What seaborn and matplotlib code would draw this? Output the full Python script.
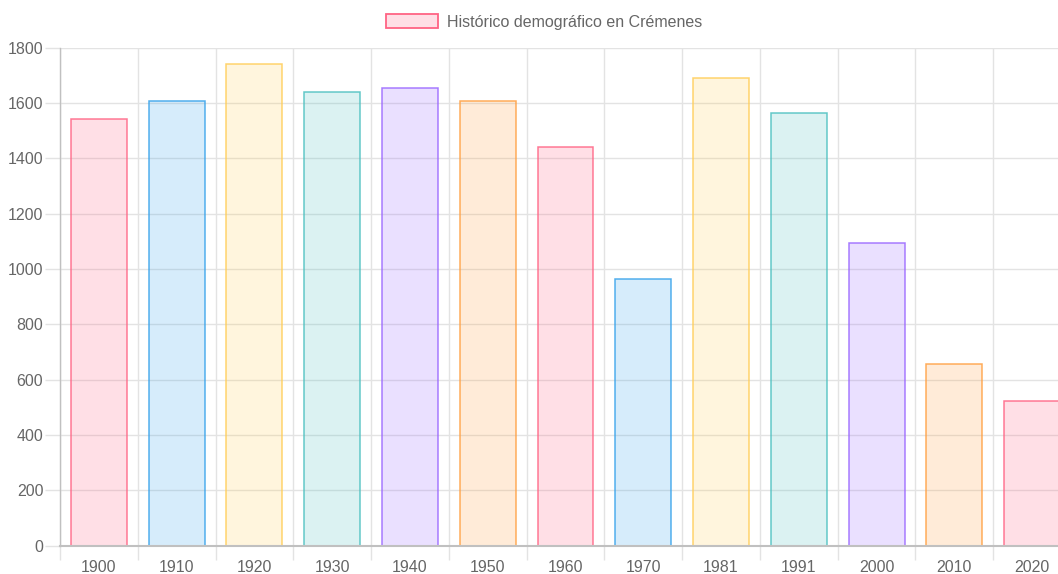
import matplotlib
matplotlib.use("Agg")
import matplotlib.pyplot as plt
from matplotlib.patches import Patch
import seaborn as sns
import pandas as pd

# --- Data ---
years = ["1900", "1910", "1920", "1930", "1940", "1950", "1960",
         "1970", "1981", "1991", "2000", "2010", "2020"]
population = [1542, 1606, 1742, 1641, 1652, 1606, 1440,
              964, 1688, 1562, 1095, 655, 523]
legend_label = "Histórico demográfico en Crémenes"

# Chart.js default palette (border colours), fill = same at 20% alpha
base_colors = ["#ff6384", "#36a2eb", "#ffcd56", "#4bc0c0", "#9966ff", "#ff9f40"]
edge_colors = [base_colors[i % len(base_colors)] for i in range(len(years))]

TEXT = "#666666"
GRID = "#e3e3e3"
AXIS = "#c0c0c0"

sns.set_theme(style="white")
plt.rcParams["font.family"] = ["Liberation Sans", "DejaVu Sans"]

df = pd.DataFrame({"year": years, "pop": population})

fig = plt.figure(figsize=(10.58, 5.74), dpi=100)
ax = fig.add_axes([60 / 1058, 28.3 / 574, 1011 / 1058, 498.2 / 574])

fill_palette = {y: matplotlib.colors.to_rgba(c, 0.2) for y, c in zip(years, edge_colors)}
sns.barplot(data=df, x="year", y="pop", hue="year", palette=fill_palette,
            order=years, hue_order=years, width=0.72, legend=False,
            saturation=1, ax=ax)

for patch, ec in zip(ax.patches, edge_colors):
    patch.set_edgecolor(matplotlib.colors.to_rgba(ec, 0.85))
    patch.set_linewidth(1.1)

ax.set_xlim(-0.5, len(years) - 0.5)
ax.set_ylim(0, 1800)
ax.set_yticks(range(0, 1801, 200))
ax.set_xlabel("")
ax.set_ylabel("")

# grid lines between categories (Chart.js offset grid)
ax.set_xticks([i - 0.5 for i in range(len(years) + 1)], minor=True)
ax.grid(True, which="minor", axis="x", color=GRID, linewidth=1.0)
ax.grid(True, which="major", axis="y", color=GRID, linewidth=1.0)
ax.set_axisbelow(True)

ax.tick_params(axis="x", which="major", length=0, labelsize=11.5,
               labelcolor=TEXT, pad=10)
ax.tick_params(axis="x", which="minor", length=10, width=1.0, color=GRID,
               direction="out", bottom=True)
ax.tick_params(axis="y", which="major", length=11, width=1.0, color=GRID,
               labelsize=11.5, labelcolor=TEXT, pad=1, left=True)

for side in ["top", "right"]:
    ax.spines[side].set_visible(False)
ax.spines["left"].set_color(AXIS)
ax.spines["left"].set_linewidth(1.0)
ax.spines["bottom"].set_color(AXIS)
ax.spines["bottom"].set_linewidth(1.5)

handle = Patch(facecolor=matplotlib.colors.to_rgba(base_colors[0], 0.2),
               edgecolor=base_colors[0], linewidth=1.3)
fig.legend(handles=[handle], labels=[legend_label], loc="center",
           bbox_to_anchor=(544 / 1058, 1 - 22 / 574), frameon=False,
           fontsize=11.5, labelcolor=TEXT, handlelength=3.3,
           handleheight=0.9, handletextpad=0.55)

fig.savefig("out.png", dpi=100)
